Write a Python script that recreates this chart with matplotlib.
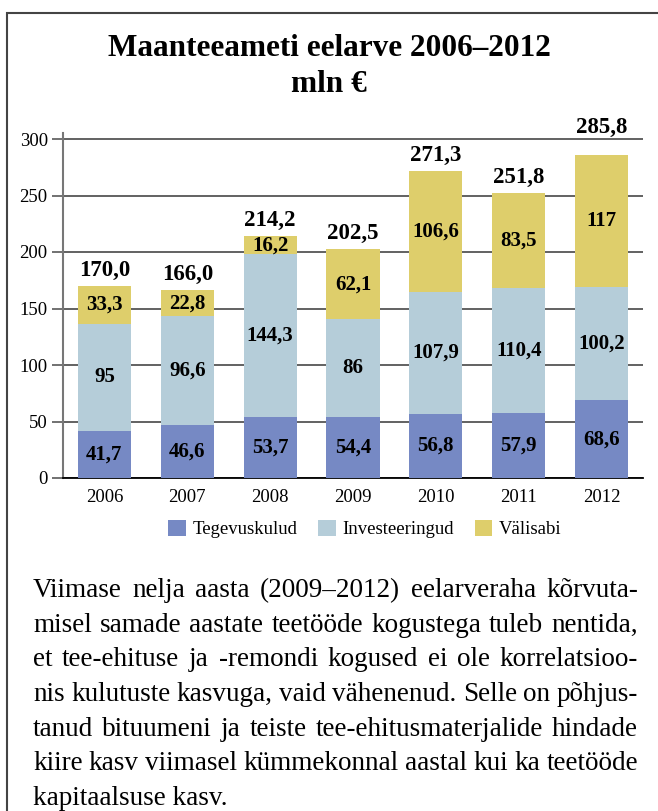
import matplotlib
matplotlib.use("Agg")
import matplotlib.pyplot as plt
from matplotlib.patches import Patch, Rectangle
import numpy as np

# data
years = ["2006", "2007", "2008", "2009", "2010", "2011", "2012"]
tegevuskulud = [41.7, 46.6, 53.7, 54.4, 56.8, 57.9, 68.6]
investeeringud = [95, 96.6, 144.3, 86, 107.9, 110.4, 100.2]
valisabi = [33.3, 22.8, 16.2, 62.1, 106.6, 83.5, 117]
totals = [170.0, 166.0, 214.2, 202.5, 271.3, 251.8, 285.8]
series_names = ["Tegevuskulud", "Investeeringud", "Välisabi"]
colors = ["#7689C4", "#B5CDD9", "#DECE6B"]

paragraph = [
    "Viimase nelja aasta (2009–2012) eelarveraha kõrvuta-",
    "misel samade aastate teetööde kogustega tuleb nentida,",
    "et tee-ehituse ja -remondi kogused ei ole korrelatsioo-",
    "nis kulutuste kasvuga, vaid vähenenud. Selle on põhjus-",
    "tanud bituumeni ja teiste tee-ehitusmaterjalide hindade",
    "kiire kasv viimasel kümmekonnal aastal kui ka teetööde",
    "kapitaalsuse kasv.",
]

plt.rcParams["font.family"] = ["Liberation Serif", "DejaVu Serif"]

W, H = 658, 811
fig = plt.figure(figsize=(W / 100, H / 100), dpi=100)

# frame around the whole block (cut off on the right and bottom)
fig.patches.append(Rectangle((7 / W, -0.05), 1.1, 1 - 13 / H + 0.05,
                             transform=fig.transFigure, fill=False,
                             edgecolor="#444444", linewidth=1.5))

# y runs 0..305 so the left spine pokes a little above the 300 line
px_per_unit = 339 / 300
ax = fig.add_axes([63 / W, 1 - 478 / H, 580 / W, 305 * px_per_unit / H])

x = np.arange(len(years))
series = [tegevuskulud, investeeringud, valisabi]
bottom = np.zeros(len(years))
for vals, name, col in zip(series, series_names, colors):
    vals = np.array(vals, dtype=float)
    ax.bar(x, vals, bottom=bottom, width=0.64, color=col, label=name, zorder=3)
    for xi, v, b in zip(x, vals, bottom):
        txt = ("%g" % v).replace(".", ",")
        ax.text(xi, b + v / 2, txt, ha="center", va="center",
                fontsize=15, fontweight="bold", zorder=4)
    bottom += vals

for xi, tot in zip(x, totals):
    ly = tot + 14 if tot + 14 < 292 else 310
    ax.text(xi, ly, ("%.1f" % tot).replace(".", ","), ha="center", va="center",
            fontsize=16.5, fontweight="bold", clip_on=False, zorder=4)

ax.set_xlim(-0.5, len(years) - 0.5)
ax.set_ylim(0, 305)
ax.set_yticks(range(0, 301, 50))
ax.set_xticks(x)
ax.set_xticklabels(years)
ax.yaxis.grid(True, color="#555555", linewidth=1.3, zorder=0)
ax.set_axisbelow(True)
ax.tick_params(axis="y", length=8, width=1.3, color="#666666", labelsize=13.5, pad=3)
ax.tick_params(axis="x", length=0, labelsize=13.5, pad=8)
for s in ["top", "right"]:
    ax.spines[s].set_visible(False)
ax.spines["left"].set_color("#777777")
ax.spines["left"].set_linewidth(1.5)
ax.spines["bottom"].set_color("black")
ax.spines["bottom"].set_linewidth(1.3)

handles = [Patch(facecolor=c, edgecolor="none") for c in colors]
fig.legend(handles, series_names, loc="center", bbox_to_anchor=(365 / W, 1 - 529 / H),
           ncol=3, frameon=False, fontsize=13.5, handlelength=0.95,
           handleheight=0.95, handletextpad=0.35, columnspacing=1.1,
           borderpad=0, borderaxespad=0)

# title
fig.text(0.5, 1 - 49 / H, "Maanteeameti eelarve 2006–2012", ha="center", va="center",
         fontsize=22.5, fontweight="bold")
fig.text(0.5, 1 - 85 / H, "mln €", ha="center", va="center",
         fontsize=22.5, fontweight="bold")

# justified paragraph
renderer = fig.canvas.get_renderer()
left, right = 33, 638
base0, step = 597, 34.7
fs = 19.5
for i, line in enumerate(paragraph):
    yb = 1 - (base0 + i * step) / H
    words = line.split(" ")
    if i == len(paragraph) - 1:
        fig.text(left / W, yb, line, ha="left", va="baseline", fontsize=fs)
        continue
    objs = [fig.text(0, yb, w, ha="left", va="baseline", fontsize=fs) for w in words]
    widths = [o.get_window_extent(renderer).width for o in objs]
    gap = (right - left - sum(widths)) / (len(words) - 1)
    xpos = left
    for o, wd in zip(objs, widths):
        o.set_x(xpos / W)
        xpos += wd + gap

fig.savefig("out.png", dpi=100)
